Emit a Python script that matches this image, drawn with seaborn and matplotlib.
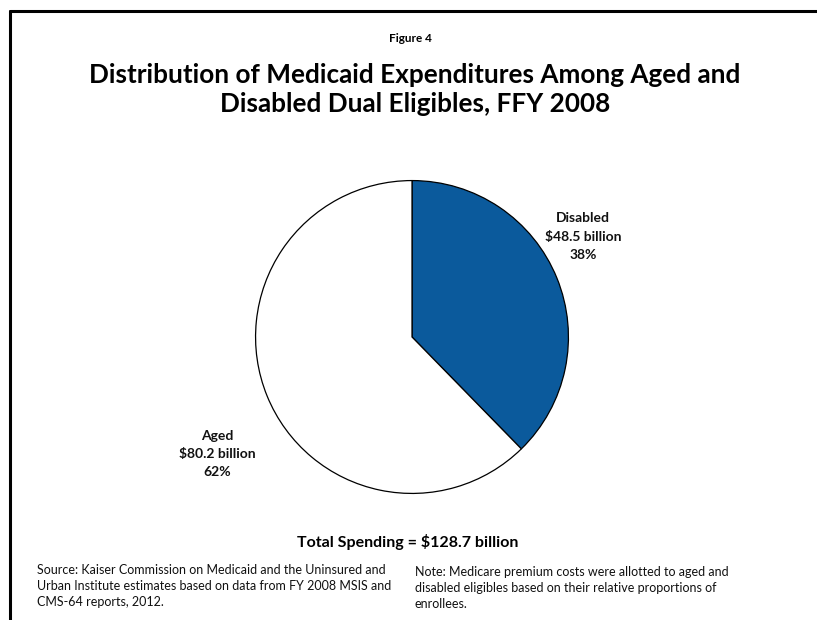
import matplotlib
matplotlib.use("Agg")
import matplotlib.pyplot as plt
import seaborn as sns

# Medicaid spending on dual eligibles, FFY 2008 (billions of dollars)
groups = ["Disabled", "Aged"]
spending = [48.5, 80.2]
shares = ["38%", "62%"]
total_label = "Total Spending = $128.7 billion"

sns.set_theme(style="white")
plt.rcParams["font.family"] = ["Lato", "DejaVu Sans"]

W, H = 817, 620
fig = plt.figure(figsize=(W / 100, H / 100), dpi=100)
fig.patch.set_facecolor("white")


def px(x, y):
    return x / W, 1 - y / H


# frame along the top and left edges
fig.add_artist(plt.Line2D([10 / W, 10 / W], [0, 1 - 10.5 / H], color="black", lw=2.2,
                          transform=fig.transFigure))
fig.add_artist(plt.Line2D([10 / W, 1], [1 - 10.5 / H, 1 - 10.5 / H], color="black", lw=2.2,
                          transform=fig.transFigure))

# pie
cx, cy, r = 412, 337, 158
ax = fig.add_axes([(cx - r) / W, (H - cy - r) / H, 2 * r / W, 2 * r / H])
colors = ["#0B5A9C", "#FFFFFF"]
ax.pie(spending, colors=colors, startangle=90, counterclock=False,
       wedgeprops=dict(edgecolor="black", linewidth=0.9))
ax.set_xlim(-1.01, 1.01)
ax.set_ylim(-1.01, 1.01)
ax.set_axis_off()

# slice labels
label_pos = {"Disabled": (583, 218), "Aged": (217, 454)}
for g, v, s in zip(groups, spending, shares):
    x, y = label_pos[g]
    for i, line in enumerate([g, f"${v:.1f} billion", s]):
        fig.text(*px(x, y + (i - (0 if g == "Disabled" else 1)) * 18.5), line,
                 ha="center", va="center", fontsize=10, fontweight="bold", color="#111111")

# titles
fig.text(*px(410, 38), "Figure 4", ha="center", va="center", fontsize=8.5,
         fontweight="bold", color="black")
fig.text(*px(415, 75), "Distribution of Medicaid Expenditures Among Aged and",
         ha="center", va="center", fontsize=18.8, fontweight="bold", color="black")
fig.text(*px(415, 104), "Disabled Dual Eligibles, FFY 2008",
         ha="center", va="center", fontsize=18.8, fontweight="bold", color="black")

fig.text(*px(408, 542), total_label, ha="center", va="center", fontsize=11.5,
         fontweight="bold", color="black")

# notes
source_lines = [
    "Source: Kaiser Commission on Medicaid and the Uninsured and",
    "Urban Institute estimates based on data from FY 2008 MSIS and",
    "CMS-64 reports, 2012.",
]
note_lines = [
    "Note: Medicare premium costs were allotted to aged and",
    "disabled eligibles based on their relative proportions of",
    "enrollees.",
]
for i, line in enumerate(source_lines):
    fig.text(*px(37, 570 + 16 * i), line, ha="left", va="center", fontsize=9,
             color="#111111")
for i, line in enumerate(note_lines):
    fig.text(*px(415, 572 + 16 * i), line, ha="left", va="center", fontsize=9,
             color="#111111")

fig.savefig("out.png", dpi=100, facecolor="white")
